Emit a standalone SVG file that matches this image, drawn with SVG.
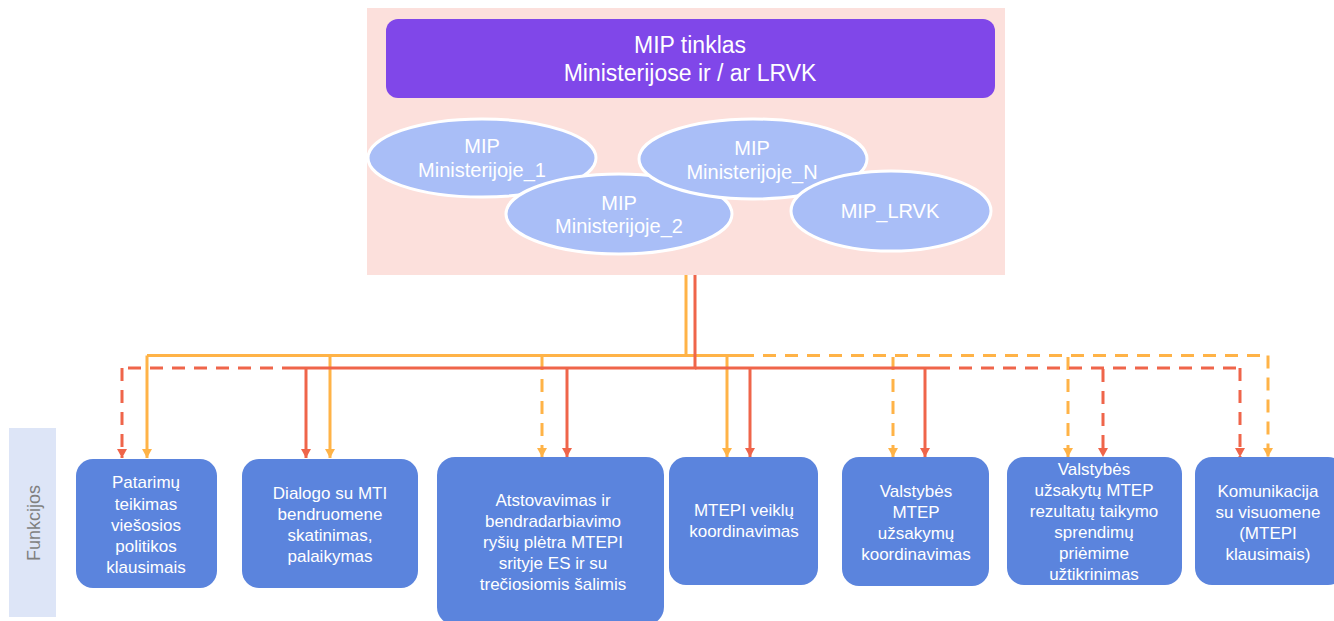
<svg xmlns="http://www.w3.org/2000/svg" width="1334" height="621" viewBox="0 0 1334 621">
<style>
.t{font-family:"Liberation Sans",Arial,sans-serif;fill:#ffffff;text-anchor:middle}
.box{fill:#5B84DD}
.ell{fill:#A9BEF7;stroke:#ffffff;stroke-width:3}
.o{stroke:#FFB347;stroke-width:3;fill:none}
.r{stroke:#EF654A;stroke-width:3;fill:none}
.d{stroke-dasharray:13 9}
.bt{font-size:17px}
.et{font-size:20px}
</style>
<defs>
<marker id="ao" markerUnits="userSpaceOnUse" markerWidth="9" markerHeight="10" refX="9" refY="5" orient="auto"><path d="M0,0 L9,5 L0,10 z" fill="#FFB347"/></marker>
<marker id="ar" markerUnits="userSpaceOnUse" markerWidth="9" markerHeight="10" refX="9" refY="5" orient="auto"><path d="M0,0 L9,5 L0,10 z" fill="#EF654A"/></marker>
</defs>
<rect width="1334" height="621" fill="#ffffff"/>

<g id="network">
<rect x="367" y="8" width="638" height="267" fill="#FCE0DC"/>
<rect x="386" y="19" width="609" height="79" rx="12" fill="#8047E9"/>
<text class="t" x="690" y="53" font-size="23">MIP tinklas</text>
<text class="t" x="690" y="81" font-size="23">Ministerijose ir / ar LRVK</text>
</g>
<g id="mip1">
<ellipse class="ell" cx="482" cy="158" rx="114" ry="39"/>
<text class="t et" x="482" y="153">MIP</text>
<text class="t et" x="482" y="177">Ministerijoje_1</text>
</g>
<g id="mip2">
<ellipse class="ell" cx="619" cy="214" rx="113" ry="40"/>
<text class="t et" x="619" y="210">MIP</text>
<text class="t et" x="619" y="233">Ministerijoje_2</text>
</g>
<g id="mipN">
<ellipse class="ell" cx="753" cy="159" rx="114" ry="40"/>
<text class="t et" x="752" y="155">MIP</text>
<text class="t et" x="752" y="179">Ministerijoje_N</text>
</g>
<g id="mipLRVK">
<ellipse class="ell" cx="891" cy="211" rx="100" ry="40"/>
<text class="t et" x="890" y="218">MIP_LRVK</text>
</g>

<g id="connectors">
<path class="o" d="M686,275 V355.5 H147"/>
<path class="o" d="M686,355.5 H741"/>
<path class="o" d="M147,355.5 V458" marker-end="url(#ao)"/>
<path class="o" d="M330,355.5 V458" marker-end="url(#ao)"/>
<path class="o" d="M727,355.5 V457" marker-end="url(#ao)"/>
<path class="o d" d="M741,355.5 H1268"/>
<path class="o d" d="M1268,355.5 V457" marker-end="url(#ao)"/>
<path class="o d" d="M542,357 V457" marker-end="url(#ao)"/>
<path class="o d" d="M893,357 V457" marker-end="url(#ao)"/>
<path class="o d" d="M1068,357 V457" marker-end="url(#ao)"/>

<path class="r" d="M695,275 V368 H295"/>
<path class="r" d="M695,368 H937"/>
<path class="r" d="M306,368 V458" marker-end="url(#ar)"/>
<path class="r" d="M567,368 V457" marker-end="url(#ar)"/>
<path class="r" d="M750,368 V457" marker-end="url(#ar)"/>
<path class="r" d="M925,368 V457" marker-end="url(#ar)"/>
<path class="r d" d="M295,368 H122"/>
<path class="r d" d="M122,368 V458" marker-end="url(#ar)"/>
<path class="r d" d="M937,368 H1240"/>
<path class="r d" d="M1240,368 V457" marker-end="url(#ar)"/>
<path class="r d" d="M1103,369 V457" marker-end="url(#ar)"/>
</g>

<g id="funkcijos">
<rect x="9" y="428" width="47" height="189" fill="#DDE5F7"/>
<text x="40" y="523" transform="rotate(-90 40 523)" font-family="Liberation Sans, Arial, sans-serif" font-size="18" fill="#7F7F7F" text-anchor="middle">Funkcijos</text>
</g>

<g id="f1">
<rect class="box" x="76" y="459" width="141" height="129" rx="17"/>
<text class="t bt" x="146"><tspan x="146" y="488">Patarimų</tspan><tspan x="146" y="510">teikimas</tspan><tspan x="146" y="531">viešosios</tspan><tspan x="146" y="552">politikos</tspan><tspan x="146" y="573">klausimais</tspan></text>
</g>
<g id="f2">
<rect class="box" x="242" y="459" width="176" height="129" rx="17"/>
<text class="t bt" x="330"><tspan x="330" y="499">Dialogo su MTI</tspan><tspan x="330" y="520">bendruomene</tspan><tspan x="330" y="541">skatinimas,</tspan><tspan x="330" y="562">palaikymas</tspan></text>
</g>
<g id="f3">
<rect class="box" x="437" y="457" width="227" height="168" rx="18"/>
<text class="t bt" x="553"><tspan x="553" y="506">Atstovavimas ir</tspan><tspan x="553" y="527">bendradarbiavimo</tspan><tspan x="553" y="548">ryšių plėtra MTEPI</tspan><tspan x="553" y="569">srityje ES ir su</tspan><tspan x="553" y="590">trečiosiomis šalimis</tspan></text>
</g>
<g id="f4">
<rect class="box" x="669" y="457" width="149" height="128" rx="17"/>
<text class="t bt" x="744"><tspan x="744" y="516">MTEPI veiklų</tspan><tspan x="744" y="537">koordinavimas</tspan></text>
</g>
<g id="f5">
<rect class="box" x="842" y="457" width="147" height="129" rx="17"/>
<text class="t bt" x="916"><tspan x="916" y="497">Valstybės</tspan><tspan x="916" y="518">MTEP</tspan><tspan x="916" y="539">užsakymų</tspan><tspan x="916" y="560">koordinavimas</tspan></text>
</g>
<g id="f6">
<rect class="box" x="1007" y="457" width="175" height="128" rx="17"/>
<text class="t bt" x="1094"><tspan x="1094" y="475">Valstybės</tspan><tspan x="1094" y="496">užsakytų MTEP</tspan><tspan x="1094" y="517">rezultatų taikymo</tspan><tspan x="1094" y="538">sprendimų</tspan><tspan x="1094" y="559">priėmime</tspan><tspan x="1094" y="580">užtikrinimas</tspan></text>
</g>
<g id="f7">
<rect class="box" x="1195" y="457" width="150" height="128" rx="17"/>
<text class="t bt" x="1268"><tspan x="1268" y="497">Komunikacija</tspan><tspan x="1268" y="518">su visuomene</tspan><tspan x="1268" y="539">(MTEPI</tspan><tspan x="1268" y="560">klausimais)</tspan></text>
</g>
</svg>
